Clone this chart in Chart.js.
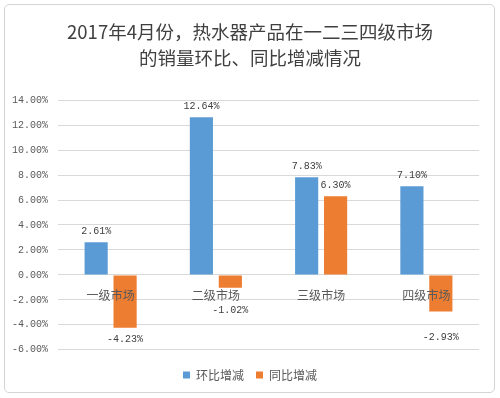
<!DOCTYPE html>
<html>
<head>
<meta charset="utf-8">
<script src="https://cdn.jsdelivr.net/npm/chart.js@4"></script>
<style>
  html, body { margin: 0; padding: 0; background: #fff; }
  #wrap { position: relative; width: 500px; height: 398px; }
  #frame { position: absolute; left: 4px; top: 4px; width: 489px; height: 387px;
    border: 1px solid #d4d4d4; border-radius: 5px; pointer-events: none; }
  canvas { position: absolute; left: 0; top: 0; }
</style>
</head>
<body>
<div id="wrap">
  <canvas id="myChart" width="500" height="398"></canvas>
  <div id="frame"></div>
</div>
<script>
const markets = ['一级市场', '二级市场', '三级市场', '四级市场']
const huanbi = [2.61, 12.64, 7.83, 7.10]
const tongbi = [-4.23, -1.02, 6.30, -2.93]
const titleLines = ['2017年4月份，热水器产品在一二三四级市场', '的销量环比、同比增减情况']

// how far each value label sits from its bar end (px)
const labelGap = [
  [11, 11, 11, 11],
  [12, 23, 11, 26],
]

const monoFont = '"Liberation Mono", "DejaVu Sans Mono", monospace'
const cjkFont = '"Noto Sans CJK SC", "Noto Sans", sans-serif'

const valueLabels = {
  id: 'valueLabels',
  afterDatasetsDraw(chart) {
    const ctx = chart.ctx
    ctx.save()
    ctx.font = '10px ' + monoFont
    ctx.fillStyle = '#404040'
    ctx.textAlign = 'center'
    ctx.textBaseline = 'middle'
    chart.data.datasets.forEach((ds, di) => {
      chart.getDatasetMeta(di).data.forEach((bar, i) => {
        const v = ds.data[i]
        const gap = labelGap[di][i]
        const y = v >= 0 ? bar.y - gap : bar.y + gap
        ctx.fillText(v.toFixed(2) + '%', bar.x, y)
      })
    })
    ctx.restore()
  },
}

const ctx = document.getElementById('myChart').getContext('2d')
const myChart = new Chart(ctx, {
  type: 'bar',
  data: {
    labels: markets,
    datasets: [
      {
        label: '环比增减',
        data: huanbi,
        backgroundColor: '#5b9bd5',
        categoryPercentage: 0.55,
        barPercentage: 0.8,
      },
      {
        label: '同比增减',
        data: tongbi,
        backgroundColor: '#ed7d31',
        categoryPercentage: 0.55,
        barPercentage: 0.8,
      },
    ],
  },
  options: {
    responsive: false,
    animation: false,
    layout: { padding: { left: 0, right: 0, top: 0, bottom: 7 } },
    plugins: {
      title: {
        display: true,
        text: titleLines,
        color: '#404040',
        font: { family: cjkFont, size: 18.5, weight: 'normal', lineHeight: 1.41 },
        padding: { top: 19, bottom: 29 },
      },
      legend: {
        position: 'bottom',
        title: { display: true, text: ' ', font: { size: 1 }, padding: { top: 0, bottom: 6 } },
        labels: {
          boxWidth: 7,
          boxHeight: 7,
          padding: 12,
          color: '#595959',
          font: { family: cjkFont, size: 12 },
        },
      },
      tooltip: { enabled: false },
    },
    scales: {
      x: {
        position: { y: 0 },
        grid: { display: false },
        border: { display: false },
        ticks: {
          z: 1,
          color: '#595959',
          padding: 5,
          font: { family: cjkFont, size: 12 },
        },
      },
      y: {
        min: -6,
        max: 14,
        afterFit: (scale) => { scale.width = 58 },
        grid: { color: '#d9d9d9', drawTicks: false },
        border: { display: false },
        ticks: {
          stepSize: 2,
          padding: 10,
          color: '#595959',
          font: { family: monoFont, size: 10 },
          callback: (v) => v.toFixed(2) + '%',
        },
      },
      yRight: {
        position: 'right',
        min: -6,
        max: 14,
        afterFit: (scale) => { scale.width = 21 },
        grid: { display: false },
        border: { display: false },
        ticks: { display: false },
      },
    },
  },
  plugins: [valueLabels],
})
</script>
</body>
</html>
